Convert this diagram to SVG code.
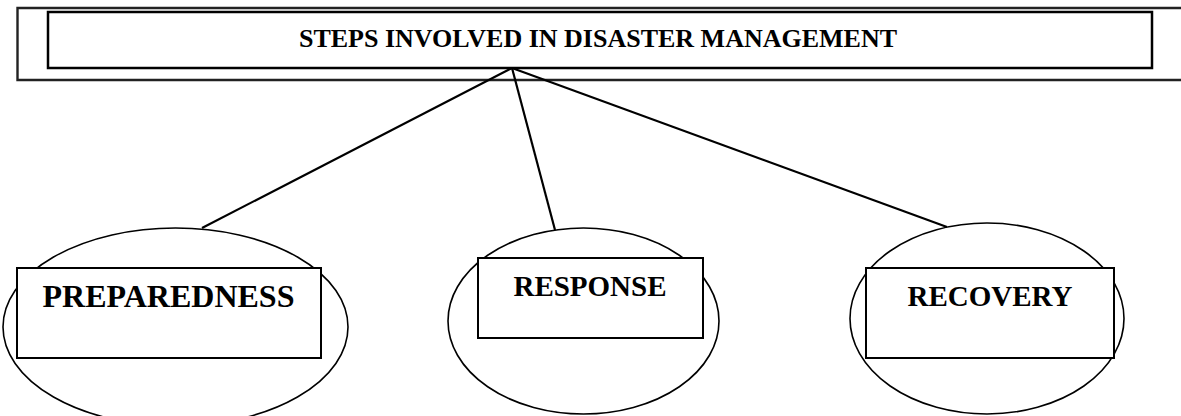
<svg xmlns="http://www.w3.org/2000/svg" width="1181" height="416" viewBox="0 0 1181 416">
<style>
.bg{fill:#fff}
.frame{fill:none;stroke:#222;stroke-width:2.4}
.title-box{fill:#fff;stroke:#000;stroke-width:2.5}
.oval{fill:#fff;stroke:#000;stroke-width:1.6}
.box{fill:#fff;stroke:#000;stroke-width:2}
.conn{fill:none;stroke:#000;stroke-width:2.2}
.lbl{font-family:"Liberation Serif","Times New Roman",serif;font-weight:bold;fill:#000;text-anchor:middle}
</style>
<rect class="bg" x="0" y="0" width="1181" height="416"/>
<g id="title">
<path class="frame" d="M1181,8 H17.5 V80 H1181"/>
<rect class="title-box" x="48" y="12" width="1104" height="56"/>
<text class="lbl" x="598" y="47" font-size="26">STEPS INVOLVED IN DISASTER MANAGEMENT</text>
</g>
<g id="preparedness">
<ellipse class="oval" cx="175.5" cy="327" rx="172.5" ry="99"/>
<rect class="box" x="17" y="268" width="304" height="90"/>
<text class="lbl" x="168.5" y="307" font-size="32">PREPAREDNESS</text>
</g>
<g id="response">
<ellipse class="oval" cx="583.5" cy="321" rx="135.5" ry="93"/>
<rect class="box" x="478" y="258" width="225" height="80"/>
<text class="lbl" x="590" y="296" font-size="29">RESPONSE</text>
</g>
<g id="recovery">
<ellipse class="oval" cx="987" cy="318.5" rx="137" ry="95.5"/>
<rect class="box" x="866" y="268" width="248" height="90"/>
<text class="lbl" x="990" y="306" font-size="29">RECOVERY</text>
</g>
<g id="connectors">
<line class="conn" x1="512" y1="68" x2="202" y2="228"/>
<line class="conn" x1="512" y1="68" x2="555" y2="230"/>
<line class="conn" x1="512" y1="68" x2="947" y2="227"/>
</g>
</svg>
